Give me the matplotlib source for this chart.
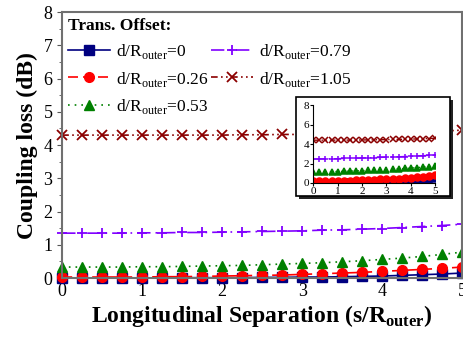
import matplotlib
matplotlib.use("Agg")
import matplotlib.pyplot as plt
from matplotlib.patches import Rectangle
from matplotlib.ticker import MultipleLocator

plt.rcParams['font.family'] = ['Liberation Serif', 'DejaVu Serif']
plt.rcParams['mathtext.fontset'] = 'custom'
plt.rcParams['mathtext.rm'] = 'Liberation Serif'
plt.rcParams['mathtext.bf'] = 'Liberation Serif:bold'

# longitudinal separation s/R_outer
sep = [0, 0.25, 0.5, 0.75, 1, 1.25, 1.5, 1.75, 2, 2.25, 2.5,
       2.75, 3, 3.25, 3.5, 3.75, 4, 4.25, 4.5, 4.75, 5]

offsets = ["0", "0.26", "0.53", "0.79", "1.05"]

# coupling loss (dB), main plot
loss_main = [
    [0.00, 0.00, 0.00, 0.00, 0.00, 0.00, 0.01, 0.01, 0.01, 0.01, 0.02,
     0.02, 0.03, 0.03, 0.04, 0.05, 0.06, 0.08, 0.10, 0.12, 0.15],
    [0.03, 0.03, 0.03, 0.03, 0.03, 0.04, 0.04, 0.05, 0.06, 0.07, 0.08,
     0.09, 0.11, 0.13, 0.15, 0.17, 0.20, 0.23, 0.26, 0.29, 0.33],
    [0.33, 0.33, 0.33, 0.33, 0.34, 0.34, 0.35, 0.36, 0.37, 0.38, 0.40,
     0.42, 0.44, 0.46, 0.49, 0.52, 0.56, 0.60, 0.65, 0.71, 0.78],
    [1.35, 1.35, 1.35, 1.35, 1.36, 1.36, 1.37, 1.37, 1.38, 1.39, 1.40,
     1.41, 1.42, 1.44, 1.45, 1.47, 1.49, 1.52, 1.55, 1.58, 1.62],
    [4.30, 4.30, 4.30, 4.30, 4.30, 4.30, 4.30, 4.30, 4.30, 4.31, 4.31,
     4.32, 4.32, 4.33, 4.34, 4.35, 4.36, 4.38, 4.40, 4.42, 4.45],
]

# coupling loss (dB), inset
loss_inset = [
    [0.02, 0.02, 0.03, 0.03, 0.04, 0.05, 0.06, 0.07, 0.08, 0.09, 0.11,
     0.12, 0.14, 0.16, 0.18, 0.21, 0.24, 0.27, 0.31, 0.35, 0.40],
    [0.20, 0.20, 0.21, 0.22, 0.23, 0.24, 0.25, 0.27, 0.29, 0.31, 0.33,
     0.36, 0.39, 0.42, 0.46, 0.50, 0.55, 0.60, 0.66, 0.72, 0.80],
    [1.13, 1.14, 1.15, 1.16, 1.18, 1.20, 1.22, 1.24, 1.26, 1.29, 1.32,
     1.35, 1.38, 1.41, 1.45, 1.49, 1.53, 1.58, 1.63, 1.68, 1.74],
    [2.46, 2.47, 2.48, 2.49, 2.50, 2.52, 2.53, 2.55, 2.57, 2.59, 2.61,
     2.63, 2.65, 2.67, 2.70, 2.72, 2.75, 2.78, 2.81, 2.84, 2.87],
    [4.40, 4.40, 4.40, 4.40, 4.41, 4.41, 4.41, 4.42, 4.42, 4.43, 4.44,
     4.45, 4.46, 4.47, 4.48, 4.50, 4.51, 4.53, 4.55, 4.57, 4.60],
]

colors = ['#000080', '#ff0000', '#008000', '#8000ff', '#8b0000']
markers = ['s', 'o', '^', '+', 'x']
styles = ['-', (0, (6, 3)), (0, (1, 3)), (0, (8, 3, 1, 3)), (0, (4, 2, 1, 2, 1, 2))]

fig = plt.figure(figsize=(4.64, 3.37), dpi=100)
ax = fig.add_axes([0.134, 0.175, 0.862, 0.789])

for i in range(len(offsets)):
    ax.plot(sep, loss_main[i], color=colors[i], linestyle=styles[i],
            marker=markers[i], markersize=7, markeredgewidth=1.3 if i > 2 else 1,
            linewidth=1.2, clip_on=False,
            label=r'd/R$_{\mathregular{outer}}$=' + offsets[i])

ax.set_xlim(0, 5)
ax.set_ylim(0, 8)
ax.xaxis.set_major_locator(MultipleLocator(1))
ax.yaxis.set_major_locator(MultipleLocator(1))
ax.yaxis.set_minor_locator(MultipleLocator(0.5))
ax.xaxis.set_minor_locator(MultipleLocator(0.5))
ax.tick_params(axis='y', which='both', direction='out', labelsize=13, color='#555555')
ax.tick_params(axis='x', which='both', direction='in', labelsize=13, color='#555555')
ax.tick_params(which='minor', length=2)
for s in ax.spines.values():
    s.set_color('#707070')
    s.set_linewidth(1.5)

ax.set_xlabel(r'Longitudinal Separation (s/R$_{\mathbf{outer}}$)',
              fontsize=17, fontweight='bold', labelpad=2)
ax.set_ylabel('Coupling loss (dB)', fontsize=17, fontweight='bold', labelpad=4)

leg = ax.legend(ncol=2, loc='upper left', frameon=False, fontsize=12.5,
                title='Trans. Offset:', alignment='left',
                title_fontproperties={'weight': 'bold', 'size': 12.5},
                handlelength=2.4, handletextpad=0.35, columnspacing=0.15,
                labelspacing=0.47, borderaxespad=0.15, borderpad=0.2)

# inset frame with drop shadow
frame = fig.add_axes([0.0, 0.0, 1.0, 1.0], zorder=3)
frame.set_xlim(0, 464)
frame.set_ylim(337, 0)
frame.axis('off')
frame.add_patch(Rectangle((299, 100), 154, 99, facecolor='#222222', edgecolor='none'))
frame.add_patch(Rectangle((296, 97), 154, 99, facecolor='white', edgecolor='black', linewidth=1.2))

ins = fig.add_axes([0.675, 0.457, 0.263, 0.231], zorder=4)
ins.patch.set_alpha(0)
for i in range(len(offsets)):
    ins.plot(sep, loss_inset[i], color=colors[i], linestyle=styles[i],
             marker=markers[i], markersize=5, markeredgewidth=1.1, linewidth=1.0)
ins.set_xlim(0, 5)
ins.set_ylim(0, 8)
ins.xaxis.set_major_locator(MultipleLocator(1))
ins.yaxis.set_major_locator(MultipleLocator(2))
ins.tick_params(labelsize=8, length=2, pad=1)
ins.spines['top'].set_visible(False)
ins.spines['right'].set_visible(False)

fig.savefig('out.png', dpi=100)
